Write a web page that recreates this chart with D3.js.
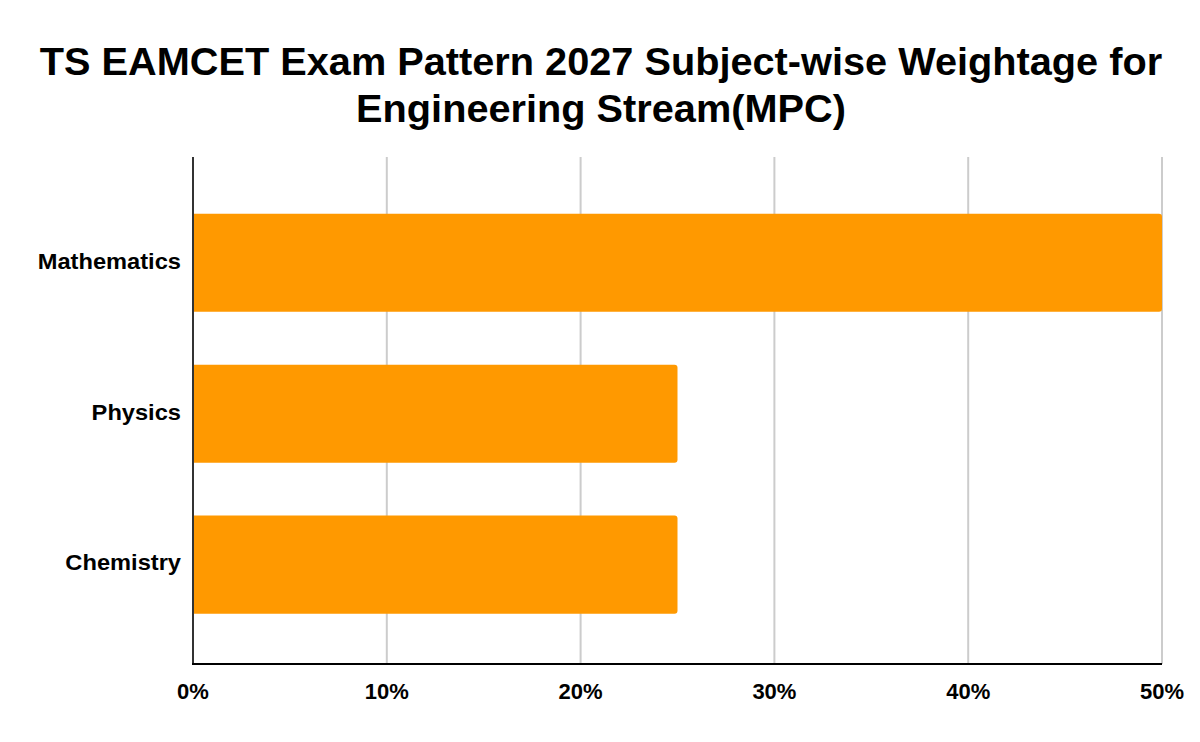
<!DOCTYPE html>
<html>
<head>
<meta charset="utf-8">
<script src="https://cdn.jsdelivr.net/npm/d3@7"></script>
<style>
  body { margin: 0; background: #fff; }
  text { font-family: "Liberation Sans", Arial, sans-serif; font-weight: bold; fill: #000; }
</style>
</head>
<body>
<svg id="canvas" width="1200" height="742"></svg>
<script>
// chart data
let subjects = ["Mathematics", "Physics", "Chemistry"];
let weightage = [0.50, 0.25, 0.25];
let tickValues = [0, 0.1, 0.2, 0.3, 0.4, 0.5];
let titleLines = ["TS EAMCET Exam Pattern 2027 Subject-wise Weightage for", "Engineering Stream(MPC)"];

let svg = d3.select("#canvas");
let margin = { left: 193, right: 38, top: 157, bottom: 78 };
let width = 1200 - margin.left - margin.right;
let height = 742 - margin.top - margin.bottom;

let x = d3.scaleLinear().domain([0, 0.5]).range([0, width]);
let y = d3.scaleBand().domain(subjects).range([0, height])
  .paddingInner(0.35).paddingOuter(0.355).align(0.53);

// title (the source text is a little wider than Liberation Sans, so stretch it slightly)
svg.append("g")
  .selectAll("g")
  .data(titleLines)
  .enter()
  .append("g")
  .attr("transform", (d, i) => `translate(601,${75 + i * 47}) scale(1.045,1)`)
  .append("text")
  .attr("text-anchor", "middle")
  .style("font-size", "38px")
  .text(d => d);

let g = svg.append("g").attr("transform", `translate(${margin.left},${margin.top})`);

// gridlines
g.selectAll(".grid")
  .data(tickValues.slice(1))
  .enter()
  .append("line")
  .attr("x1", d => x(d))
  .attr("x2", d => x(d))
  .attr("y1", 0)
  .attr("y2", height)
  .attr("stroke", "#cccccc")
  .attr("stroke-width", 2);

// bars: square on the left, small rounded corners on the right
let r = 3;
g.selectAll(".bar")
  .data(subjects)
  .enter()
  .append("path")
  .attr("fill", "#ff9900")
  .attr("d", (d, i) => {
    let w = x(weightage[i]);
    let y0 = y(d);
    let h = y.bandwidth();
    return `M0,${y0}H${w - r}Q${w},${y0} ${w},${y0 + r}V${y0 + h - r}Q${w},${y0 + h} ${w - r},${y0 + h}H0Z`;
  });

// y axis line
g.append("line")
  .attr("x1", 0).attr("x2", 0)
  .attr("y1", 0).attr("y2", height)
  .attr("stroke", "#333333")
  .attr("stroke-width", 2);

// x axis line
g.append("line")
  .attr("x1", -1).attr("x2", width)
  .attr("y1", height).attr("y2", height)
  .attr("stroke", "#000000")
  .attr("stroke-width", 2);

// category labels
g.selectAll(".cat")
  .data(subjects)
  .enter()
  .append("g")
  .attr("transform", d => `translate(-12,${y(d) + y.bandwidth() / 2}) scale(1.1,1)`)
  .append("text")
  .attr("dy", "0.27em")
  .attr("text-anchor", "end")
  .style("font-size", "21.5px")
  .text(d => d);

// tick labels
g.selectAll(".tick-label")
  .data(tickValues)
  .enter()
  .append("text")
  .attr("x", d => x(d))
  .attr("y", height + 35)
  .attr("text-anchor", "middle")
  .style("font-size", "22px")
  .text(d => d3.format(".0%")(d));
</script>
</body>
</html>
